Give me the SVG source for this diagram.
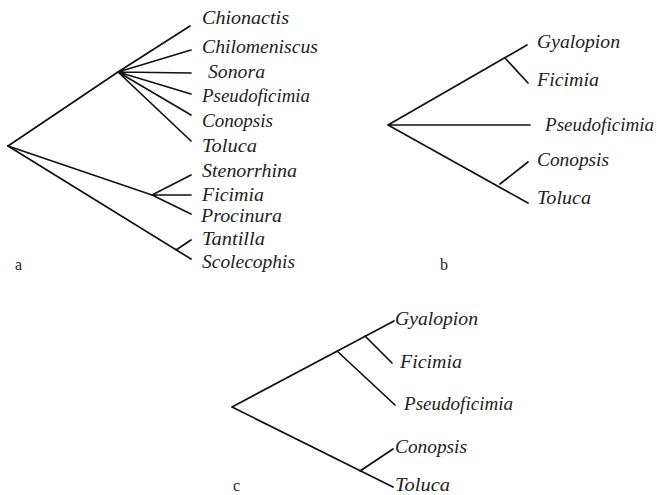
<svg xmlns="http://www.w3.org/2000/svg" width="657" height="495" viewBox="0 0 657 495">
<style>
  .br { stroke: #111; stroke-width: 1.7; fill: none; stroke-linecap: round; stroke-linejoin: round; }
  .tx { font-family: "Liberation Serif", "Times New Roman", serif; font-style: italic; font-size: 18px; fill: #222; }
  .lb { font-family: "Liberation Serif", "Times New Roman", serif; font-size: 16px; fill: #222; }
</style>
<rect width="657" height="495" fill="#fff"/>
<g id="connectors">
  <!-- tree a -->
  <path class="br" d="M8,146 L118,72 M118,72 L190,26 M118,72 L191,50 M118,72 L191,73 M118,72 L191,94 M118,72 L191,115 M118,72 L191,141"/>
  <path class="br" d="M8,146 L152,195 L191,214 M152,195 L191,175 M152,195 L191,195"/>
  <path class="br" d="M8,146 L191,259 M176,250 L191,240"/>
  <!-- tree b -->
  <path class="br" d="M388,125 L527,45 M505,58 L528,83 M388,125 L530,125 M388,125 L528,203 M500,184 L528,162"/>
  <!-- tree c -->
  <path class="br" d="M232,407 L394,321 M337,351 L395,405 M365,336 L392,363 M232,407 L393,487 M360,471 L393,449"/>
</g>
<g id="tree-a">
  <text class="tx" x="202" y="24" textLength="87" lengthAdjust="spacingAndGlyphs">Chionactis</text>
  <text class="tx" x="202" y="53" textLength="116" lengthAdjust="spacingAndGlyphs">Chilomeniscus</text>
  <text class="tx" x="208" y="78" textLength="57" lengthAdjust="spacingAndGlyphs">Sonora</text>
  <text class="tx" x="202" y="102" textLength="108" lengthAdjust="spacingAndGlyphs">Pseudoficimia</text>
  <text class="tx" x="202" y="127" textLength="71" lengthAdjust="spacingAndGlyphs">Conopsis</text>
  <text class="tx" x="202" y="152" textLength="55" lengthAdjust="spacingAndGlyphs">Toluca</text>
  <text class="tx" x="202" y="177" textLength="95" lengthAdjust="spacingAndGlyphs">Stenorrhina</text>
  <text class="tx" x="202" y="201" textLength="62" lengthAdjust="spacingAndGlyphs">Ficimia</text>
  <text class="tx" x="201" y="222" textLength="81" lengthAdjust="spacingAndGlyphs">Procinura</text>
  <text class="tx" x="202" y="245" textLength="63" lengthAdjust="spacingAndGlyphs">Tantilla</text>
  <text class="tx" x="202" y="268" textLength="93" lengthAdjust="spacingAndGlyphs">Scolecophis</text>
  <text class="lb" x="15" y="270">a</text>
</g>
<g id="tree-b">
  <text class="tx" x="537" y="48" textLength="83" lengthAdjust="spacingAndGlyphs">Gyalopion</text>
  <text class="tx" x="537" y="86" textLength="62" lengthAdjust="spacingAndGlyphs">Ficimia</text>
  <text class="tx" x="545" y="131" textLength="109" lengthAdjust="spacingAndGlyphs">Pseudoficimia</text>
  <text class="tx" x="537" y="166" textLength="72" lengthAdjust="spacingAndGlyphs">Conopsis</text>
  <text class="tx" x="537" y="204" textLength="54" lengthAdjust="spacingAndGlyphs">Toluca</text>
  <text class="lb" x="440" y="270">b</text>
</g>
<g id="tree-c">
  <text class="tx" x="395" y="325" textLength="83" lengthAdjust="spacingAndGlyphs">Gyalopion</text>
  <text class="tx" x="400" y="368" textLength="62" lengthAdjust="spacingAndGlyphs">Ficimia</text>
  <text class="tx" x="404" y="410" textLength="109" lengthAdjust="spacingAndGlyphs">Pseudoficimia</text>
  <text class="tx" x="395" y="453" textLength="72" lengthAdjust="spacingAndGlyphs">Conopsis</text>
  <text class="tx" x="395" y="491" textLength="55" lengthAdjust="spacingAndGlyphs">Toluca</text>
  <text class="lb" x="233" y="491">c</text>
</g>
</svg>
